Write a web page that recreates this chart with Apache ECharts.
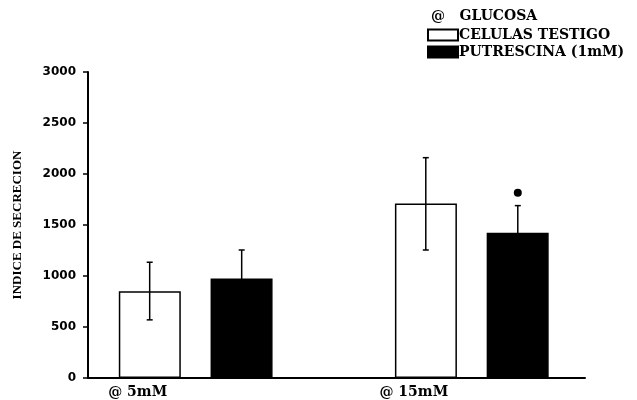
<!DOCTYPE html>
<html>
<head>
<meta charset="utf-8">
<script src="https://cdn.jsdelivr.net/npm/echarts@6/dist/echarts.min.js"></script>
<style>
html, body { margin: 0; padding: 0; background: #fff; }
#chart { width: 637px; height: 400px; }
</style>
</head>
<body>
<div id="chart"></div>
<script>
// datos
var categories = ['@ 5mM', '@ 15mM'];
var seriesNames = ['CELULAS TESTIGO', 'PUTRESCINA (1mM)'];
var testigo = [850, 1710];
var testigoErrHi = [1135, 2160];
var testigoErrLo = [570, 1255];
var putrescina = [975, 1425];
var putrescinaErrHi = [1255, 1690];
var putrescinaErrLo = [700, 1150];
var putrescinaSig = [null, 1815];   // punto de significancia (*)
var yTicks = [0, 500, 1000, 1500, 2000, 2500, 3000];

(function(){
    var chart = echarts.init(document.getElementById('chart'));

    var BAR_W = 62;
    var HALF = 46;   // desplazamiento del centro de cada barra
    var serif = 'DejaVu Serif';

    function xy(arr) {
        return arr.map(function (v, i) { return [i + 1, v]; });
    }

    // barras de error (y punto de significancia) como serie custom
    function errSeries(name, hi, lo, dx, sig) {
        var data = hi.map(function (h, i) { return [i + 1, h, lo[i], sig ? sig[i] : null]; });
        return {
            name: name + ' err',
            type: 'custom',
            silent: true,
            z: 5,
            renderItem: function (params, api) {
                var x = api.value(0);
                var top = api.coord([x, api.value(1)]);
                var bot = api.coord([x, api.value(2)]);
                var cx = top[0] + dx;
                var ch = [
                    { type: 'line', shape: { x1: cx, y1: top[1], x2: cx, y2: bot[1] }, style: { stroke: '#000', lineWidth: 1.5 } },
                    { type: 'line', shape: { x1: cx - 3, y1: top[1], x2: cx + 3, y2: top[1] }, style: { stroke: '#000', lineWidth: 1.5 } },
                    { type: 'line', shape: { x1: cx - 3, y1: bot[1], x2: cx + 3, y2: bot[1] }, style: { stroke: '#000', lineWidth: 1.5 } }
                ];
                var s = api.value(3);
                if (s) {
                    var p = api.coord([x, s]);
                    ch.push({ type: 'circle', shape: { cx: cx, cy: p[1], r: 4 }, style: { fill: '#000' } });
                }
                return { type: 'group', children: ch };
            },
            data: data
        };
    }

    var txt = { fontFamily: serif, fontSize: 14, fontWeight: 'bold', color: '#000' };

    var option = {
        backgroundColor: '#fff',
        animation: false,
        title: {
            text: '@   GLUCOSA',
            left: 426,
            top: 4,
            textStyle: txt
        },
        legend: {
            data: seriesNames,
            orient: 'vertical',
            left: 427,
            top: 28,
            padding: 0,
            itemWidth: 30,
            itemHeight: 11,
            itemGap: 3,
            icon: 'rect',
            textStyle: Object.assign({}, txt, { padding: [0, 0, 0, -4] })
        },
        grid: { left: 88, right: 52, top: 72, bottom: 22 },
        xAxis: {
            type: 'value',
            min: 0.61,
            max: 2.41,
            splitLine: { show: false },
            axisLine: { show: true, lineStyle: { color: '#000', width: 2 } },
            axisTick: { show: false },
            axisLabel: Object.assign({
                customValues: [1, 2],
                formatter: function (v) { return categories[Math.round(v) - 1] || ''; },
                margin: 7,
                padding: [0, 116, 0, 0]
            }, txt)
        },
        yAxis: {
            type: 'value',
            min: yTicks[0],
            max: yTicks[yTicks.length - 1],
            interval: 500,
            name: 'INDICE DE SECRECION',
            nameLocation: 'middle',
            nameGap: 64,
            nameMoveOverlap: false,
            nameTextStyle: { fontFamily: 'Liberation Serif', fontSize: 13, fontWeight: 'bold', color: '#000' },
            splitLine: { show: false },
            axisLine: { show: true, lineStyle: { color: '#000', width: 2 } },
            axisTick: { show: true, length: 5, lineStyle: { color: '#000', width: 1.5 } },
            axisLabel: {
                margin: 12,
                formatter: function (v) { return String(v); },
                fontFamily: 'DejaVu Sans',
                fontSize: 12,
                fontWeight: 'bold',
                color: '#000'
            }
        },
        series: [
            {
                name: seriesNames[0],
                type: 'bar',
                barWidth: BAR_W,
                barGap: '48%',
                itemStyle: { color: '#fff', borderColor: '#000', borderWidth: 1.5 },
                data: xy(testigo)
            },
            {
                name: seriesNames[1],
                type: 'bar',
                barWidth: BAR_W,
                barGap: '48%',
                itemStyle: { color: '#000', borderColor: '#000', borderWidth: 1.5 },
                data: xy(putrescina)
            },
            errSeries(seriesNames[0], testigoErrHi, testigoErrLo, -HALF),
            errSeries(seriesNames[1], putrescinaErrHi, putrescinaErrLo, HALF, putrescinaSig)
        ]
    };

    chart.setOption(option);
})();
</script>
</body>
</html>
